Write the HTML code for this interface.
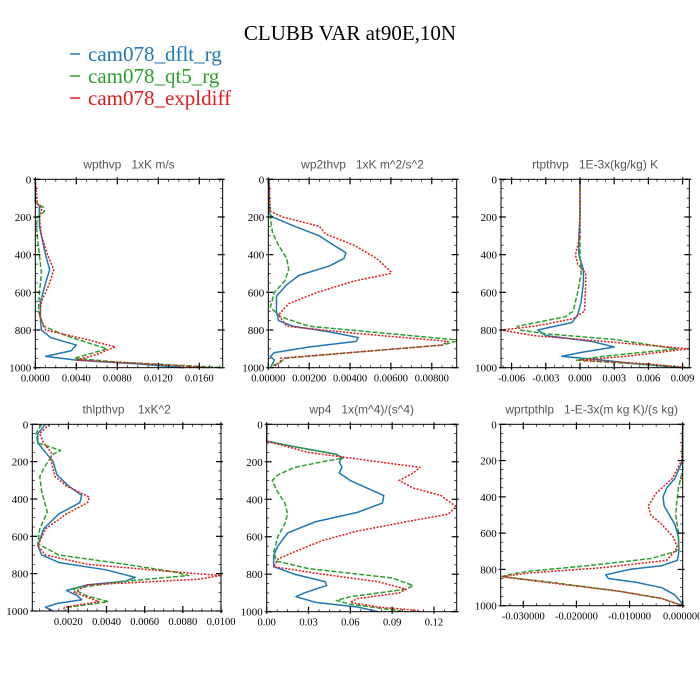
<!DOCTYPE html>
<html><head><meta charset="utf-8"><style>
html,body{margin:0;padding:0;background:#fff;}
svg{display:block;}
text{white-space:pre;}
</style></head><body>
<svg id="chart" width="700" height="700" xmlns="http://www.w3.org/2000/svg">
<text x="350" y="40" text-anchor="middle" font-family="Liberation Serif, serif" font-size="21" fill="#000">CLUBB VAR at90E,10N</text>
<g>
<line x1="70" y1="54" x2="80" y2="54" stroke="#1f77b4" stroke-width="1.5"/>
<text x="88" y="61" font-family="Liberation Serif, serif" font-size="21" fill="#1f77b4">cam078_dflt_rg</text>
<line x1="70" y1="76" x2="80" y2="76" stroke="#2ca02c" stroke-width="1.5"/>
<text x="88" y="83" font-family="Liberation Serif, serif" font-size="21" fill="#2ca02c">cam078_qt5_rg</text>
<line x1="70" y1="98" x2="80" y2="98" stroke="#e31a1c" stroke-width="1.5"/>
<text x="88" y="105" font-family="Liberation Serif, serif" font-size="21" fill="#e31a1c">cam078_expldiff</text>
</g>
</svg>
<script>
// ---------- data ----------
const seriesNames = ["cam078_dflt_rg","cam078_qt5_rg","cam078_expldiff"];
const panelTitles = ["wpthvp   1xK m/s","wp2thvp   1xK m^2/s^2","rtpthvp   1E-3x(kg/kg) K","thlpthvp    1xK^2","wp4   1x(m^4)/(s^4)","wprtpthlp   1-E-3x(m kg K)/(s kg)"];
const yTicks = [0,200,400,600,800,1000];

const p1_blue_p = [0,120,140,200,250,300,400,480,550,650,750,800,840,880,910,940,960,980,1000];
const p1_blue_v = [0,0,0.0004,0.0004,0.0004,0.0006,0.0010,0.0014,0.0010,0.0005,0.0005,0.0006,0.0015,0.0040,0.0035,0.0010,0.0040,0.0100,0.0145];
const p1_green_p = [0,120,150,170,200,250,300,400,500,600,700,780,830,900,950,970,990,1000];
const p1_green_v = [0,0,0.0008,0.0009,0.0002,0.0001,0.0002,0.0004,0.0006,0.0004,0.0003,0.0008,0.0030,0.0070,0.0038,0.0080,0.0150,0.0183];
const p1_red_p = [0,130,150,170,200,300,400,480,550,650,720,800,850,890,930,960,980,1000];
const p1_red_v = [0,0.0002,0.0006,0.0006,0.0004,0.0006,0.0012,0.0018,0.0014,0.0006,0.0004,0.0010,0.0050,0.0078,0.0060,0.0040,0.0110,0.0170];

const p2_blue_p = [0,180,200,250,300,350,390,420,460,510,560,620,700,750,780,810,840,860,890,920,940,960,980,1000];
const p2_blue_v = [0.00005,0.00005,0.0002,0.0013,0.0025,0.0032,0.0038,0.0037,0.0030,0.0015,0.0009,0.0004,0.0004,0.0005,0.0012,0.0030,0.0044,0.0043,0.0020,0.0003,0.0001,0.0003,0.0002,0.0001];
const p2_green_p = [0,200,280,350,420,480,540,600,680,730,780,820,850,860,880,920,950,970,990,1000];
const p2_green_v = [0,0.0001,0.0002,0.0005,0.0009,0.0010,0.0008,0.0003,0.0001,0.0006,0.0020,0.0060,0.0090,0.0092,0.0085,0.0040,0.0008,0.0006,0.0002,0.0001];
const p2_red_p = [0,170,200,250,290,350,420,490,500,540,600,660,720,780,820,860,880,920,950,970,1000];
const p2_red_v = [0.00003,0.0001,0.0007,0.0025,0.0028,0.0042,0.0053,0.0060,0.0060,0.0042,0.0024,0.0010,0.0005,0.0009,0.0045,0.0088,0.0085,0.0040,0.0006,0.0006,0.0002];

const p3_blue_p = [0,200,300,400,480,550,650,720,760,800,830,860,890,920,940,960,980,1000];
const p3_blue_v = [0,0,-0.0001,-0.0001,0.0003,0.0003,0.0001,-0.0002,-0.0007,-0.0037,-0.0030,0.0010,0.0030,0.0000,-0.0016,0.0020,0.0050,0.0090];
const p3_green_p = [0,300,400,500,600,700,730,780,800,820,850,900,940,960,980,1000];
const p3_green_v = [0,0,0,0.0001,-0.0002,-0.0006,-0.0013,-0.0055,-0.0053,-0.0030,0.0030,0.0085,0.0020,-0.0003,0.0050,0.0095];
const p3_red_p = [0,300,400,450,500,550,700,740,780,800,830,860,900,940,960,980,1000];
const p3_red_v = [0,0,-0.0004,-0.0002,0.0005,0.0005,0.0004,-0.0006,-0.0040,-0.0069,-0.0040,0.0020,0.0095,0.0040,0.0000,0.0060,0.0095];

const p4_blue_p = [0,50,100,150,200,270,330,380,420,480,560,650,700,740,780,820,840,860,890,920,940,960,980,1000];
const p4_blue_v = [0.0008,0.0004,0.0004,0.0008,0.0012,0.0014,0.0020,0.0027,0.0026,0.0015,0.0007,0.0004,0.0006,0.0015,0.0040,0.0055,0.0050,0.0030,0.0019,0.0025,0.0027,0.0014,0.0008,0.0012];
const p4_green_p = [0,50,100,130,140,160,220,280,360,470,560,640,700,750,790,810,840,880,920,950,980,1000];
const p4_green_v = [0.0006,0.0003,0.0004,0.0013,0.0016,0.0012,0.0008,0.0005,0.0006,0.0009,0.0005,0.0004,0.0015,0.0050,0.0075,0.0083,0.0050,0.0022,0.0030,0.0041,0.0020,0.0018];
const p4_red_p = [0,50,100,150,200,280,330,390,420,480,560,650,700,750,790,810,830,860,900,950,980,1000];
const p4_red_v = [0.0010,0.0005,0.0007,0.0011,0.0011,0.0013,0.0019,0.0031,0.0030,0.0019,0.0008,0.0004,0.0008,0.0030,0.0075,0.0100,0.0088,0.0030,0.0023,0.0036,0.0018,0.0017];

const p5_blue_p = [0,90,120,160,180,200,230,260,300,350,380,420,470,520,580,650,700,760,800,840,860,900,920,950,975,1000];
const p5_blue_v = [0,0,0.02,0.05,0.054,0.052,0.054,0.052,0.06,0.075,0.084,0.083,0.065,0.035,0.015,0.008,0.005,0.005,0.02,0.042,0.043,0.027,0.021,0.035,0.065,0.08];
const p5_green_p = [0,90,120,160,180,200,230,270,300,350,420,480,530,600,680,730,770,820,860,880,920,940,960,980,1000];
const p5_green_v = [0,0,0.02,0.05,0.055,0.04,0.02,0.008,0.004,0.007,0.013,0.015,0.013,0.008,0.005,0.007,0.03,0.09,0.105,0.1,0.06,0.05,0.06,0.08,0.1];
const p5_red_p = [0,90,150,180,200,230,260,300,340,380,440,480,520,570,620,680,720,760,800,840,880,900,930,950,975,995];
const p5_red_v = [0,0,0.03,0.06,0.08,0.11,0.105,0.095,0.105,0.125,0.136,0.13,0.10,0.065,0.04,0.02,0.008,0.005,0.04,0.08,0.1,0.095,0.065,0.06,0.08,0.11];

const p6_blue_p = [0,200,300,350,400,450,500,550,620,700,750,780,800,830,850,870,900,940,980,1000];
const p6_blue_v = [0,0,-0.0015,-0.003,-0.0037,-0.0035,-0.0025,-0.0015,-0.0008,-0.0007,-0.001,-0.004,-0.010,-0.0145,-0.014,-0.009,-0.004,-0.0015,-0.0003,0];
const p6_green_p = [0,250,350,450,500,600,680,700,740,780,810,830,840,870,920,960,1000];
const p6_green_v = [0,0,-0.0008,-0.0012,-0.0013,-0.0008,-0.0008,-0.0012,-0.006,-0.018,-0.029,-0.033,-0.034,-0.025,-0.012,-0.004,0];
const p6_red_p = [0,200,300,380,450,500,550,620,680,750,790,820,840,870,920,960,1000];
const p6_red_v = [0,-0.0002,-0.002,-0.005,-0.0065,-0.006,-0.004,-0.0018,-0.001,-0.003,-0.015,-0.029,-0.034,-0.026,-0.012,-0.004,0];

const xTickVals = [
  [0,0.004,0.008,0.012,0.016],
  [0,0.002,0.004,0.006,0.008],
  [-0.006,-0.003,0,0.003,0.006,0.009],
  [0.002,0.004,0.006,0.008,0.010],
  [0,0.03,0.06,0.09,0.12],
  [-0.03,-0.02,-0.01,0]
];
const xTickLabels = [
  ["0.0000","0.0040","0.0080","0.0120","0.0160"],
  ["0.00000","0.00200","0.00400","0.00600","0.00800"],
  ["-0.006","-0.003","0.000","0.003","0.006","0.009"],
  ["0.0020","0.0040","0.0060","0.0080","0.0100"],
  ["0.00","0.03","0.06","0.09","0.12"],
  ["-0.030000","-0.020000","-0.010000","0.000000"]
];
const xDomains = [[0,0.01828],[0,0.00922],[-0.00693,0.00959],[0.00011,0.0100],[0,0.1363],[-0.03425,0]];

// ---------- layout ----------
const boxes = [
  {x0:35.3,x1:222.7,y0:179.3,y1:367.7},
  {x0:268.3,x1:456.7,y0:179.3,y1:367.7},
  {x0:501,x1:689.3,y0:179.3,y1:367.7},
  {x0:32.3,x1:221,y0:424.3,y1:611},
  {x0:266.7,x1:456.7,y0:424.3,y1:611.7},
  {x0:500.7,x1:682.7,y0:424.3,y1:605.7}
];
const panelData = [
  [[p1_blue_p,p1_blue_v],[p1_green_p,p1_green_v],[p1_red_p,p1_red_v]],
  [[p2_blue_p,p2_blue_v],[p2_green_p,p2_green_v],[p2_red_p,p2_red_v]],
  [[p3_blue_p,p3_blue_v],[p3_green_p,p3_green_v],[p3_red_p,p3_red_v]],
  [[p4_blue_p,p4_blue_v],[p4_green_p,p4_green_v],[p4_red_p,p4_red_v]],
  [[p5_blue_p,p5_blue_v],[p5_green_p,p5_green_v],[p5_red_p,p5_red_v]],
  [[p6_blue_p,p6_blue_v],[p6_green_p,p6_green_v],[p6_red_p,p6_red_v]]
];
const colors = ["#1f77b4","#2ca02c","#e31a1c"];
const dashes = ["none","5,2","2,1.5"];
const NS = "http://www.w3.org/2000/svg";
const svg = document.getElementById("chart");
function mk(tag, attrs, parent){
  const e = document.createElementNS(NS, tag);
  for (const k in attrs) e.setAttribute(k, attrs[k]);
  (parent||svg).appendChild(e);
  return e;
}
boxes.forEach((b, i) => {
  const g = mk("g", {});
  
  
  const [d0, d1] = xDomains[i];
  const sx = v => b.x0 + (v - d0) / (d1 - d0) * (b.x1 - b.x0);
  const sy = p => b.y0 + p / 1000 * (b.y1 - b.y0);
  const t = mk("text", {x:(b.x0+b.x1)/2, y:b.y0-11, "text-anchor":"middle", "font-family":"Liberation Sans, sans-serif", "font-size":"12", fill:"#555"}, g);
  t.textContent = panelTitles[i];
  
  
  panelData[i].forEach((s, k) => {
    const [ps, vs] = s;
    let d = "";
    ps.forEach((p, j) => { d += (j ? "L" : "M") + sx(vs[j]).toFixed(2) + "," + sy(p).toFixed(2); });
    const path = mk("path", {d:d, fill:"none", stroke:colors[k], "stroke-width":"1.5", "stroke-dasharray":dashes[k], "stroke-linejoin":"round"}, g);
    
    
  });
  const fr = mk("rect", {x:b.x0, y:b.y0, width:b.x1-b.x0, height:b.y1-b.y0, fill:"none", stroke:"#000", "stroke-width":"1"}, g);
  
  
  for (let p = 0; p <= 1000; p += 50) {
    const major = p % 200 === 0;
    const L = major ? 5 : 2.5;
    const o = major ? 2 : 0;
    mk("line", {x1:b.x0-o, x2:b.x0+L, y1:sy(p), y2:sy(p), stroke:"#000", "stroke-width":major?1.2:0.7}, g);
    mk("line", {x1:b.x1+o, x2:b.x1-L, y1:sy(p), y2:sy(p), stroke:"#000", "stroke-width":major?1.2:0.7}, g);
  }
  yTicks.forEach(p => {
    const tl = mk("text", {x:b.x0-4, y:sy(p)+4, "text-anchor":"end", "font-family":"Liberation Serif, serif", "font-size":"11", fill:"#000"}, g);
    tl.textContent = p;
    
    
  });
  const tv = xTickVals[i];
  const step = tv[1] - tv[0];
  const minorStep = step / 4;
  for (let v = tv[0] - 8*minorStep; v <= d1 + 1e-12; v += minorStep) {
    if (v < d0 - 1e-12) continue;
    const idx = Math.round((v - tv[0]) / minorStep);
    const major = idx % 4 === 0;
    const L = major ? 5 : 2.5;
    const o = major ? 2 : 0;
    mk("line", {x1:sx(v), x2:sx(v), y1:b.y1+o, y2:b.y1-L, stroke:"#000", "stroke-width":major?1.2:0.7}, g);
    mk("line", {x1:sx(v), x2:sx(v), y1:b.y0-o, y2:b.y0+L, stroke:"#000", "stroke-width":major?1.2:0.7}, g);
  }
  tv.forEach((v, j) => {
    const tl = mk("text", {x:sx(v), y:b.y1+14, "text-anchor":"middle", "font-family":"Liberation Serif, serif", "font-size":"10.5", fill:"#000"}, g);
    tl.textContent = xTickLabels[i][j];
    
    
  });
});
</script>
</body></html>
